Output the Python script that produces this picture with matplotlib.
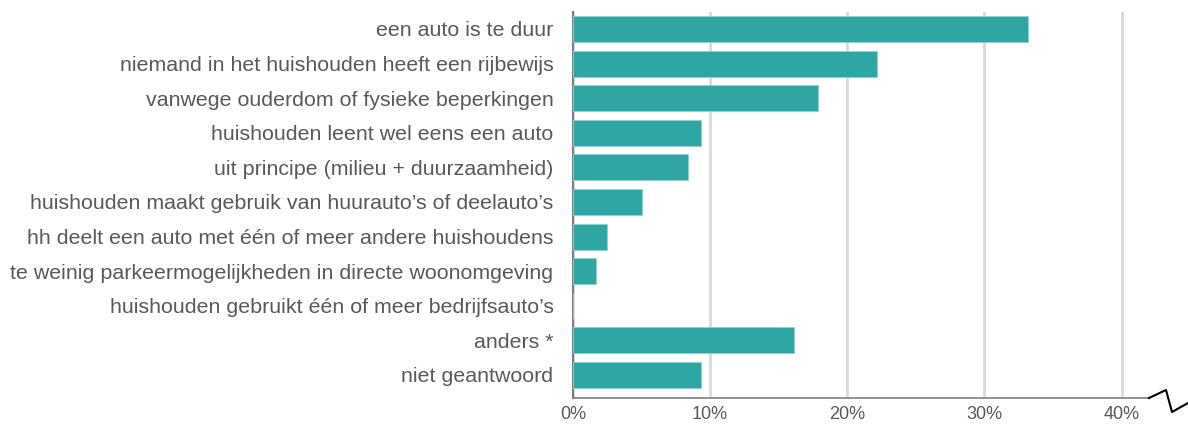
import matplotlib.pyplot as plt
from matplotlib.lines import Line2D
from matplotlib.ticker import FuncFormatter

plt.rcParams["font.family"] = ["Liberation Sans", "DejaVu Sans"]

# Reasons for not owning a car (share of households, %)
categories = [
    "een auto is te duur",
    "niemand in het huishouden heeft een rijbewijs",
    "vanwege ouderdom of fysieke beperkingen",
    "huishouden leent wel eens een auto",
    "uit principe (milieu + duurzaamheid)",
    "huishouden maakt gebruik van huurauto\u2019s of deelauto\u2019s",
    "hh deelt een auto met \u00e9\u00e9n of meer andere huishoudens",
    "te weinig parkeermogelijkheden in directe woonomgeving",
    "huishouden gebruikt \u00e9\u00e9n of meer bedrijfsauto\u2019s",
    "anders *",
    "niet geantwoord",
]
values = [33.2, 22.2, 17.9, 9.3, 8.4, 5.0, 2.5, 1.7, 0.0, 16.1, 9.3]
xticks = [0, 10, 20, 30, 40]

bar_color = "#2EA7A4"
text_color = "#595959"

fig = plt.figure(figsize=(11.88, 4.25), dpi=100)
ax = fig.add_axes([0.4823, 0.0635, 0.4849, 0.9083])

ypos = list(range(len(categories)))
ax.barh(ypos, values, height=0.75, color=bar_color, edgecolor="#8FD3D1",
        linewidth=0.6, zorder=3)

ax.set_xlim(0, 42)
ax.set_ylim(len(categories) - 1 + 0.665, -0.49)
ax.set_yticks(ypos)
ax.set_yticklabels(categories, fontsize=15.4, color=text_color)
ax.set_xticks(xticks)
ax.xaxis.set_major_formatter(FuncFormatter(lambda v, p: f"{v:.0f}%"))
ax.tick_params(axis="x", labelsize=13, labelcolor=text_color, length=0, pad=6)
ax.tick_params(axis="y", length=0, pad=14)

ax.grid(axis="x", color="#D9D9D9", linewidth=2, zorder=0)
ax.set_axisbelow(True)
for side in ["top", "right"]:
    ax.spines[side].set_visible(False)
ax.spines["left"].set_color("#7F7F7F")
ax.spines["left"].set_linewidth(1.5)
ax.spines["bottom"].set_color("#7F7F7F")
ax.spines["bottom"].set_linewidth(1.2)

# axis break marker at the right end of the x axis
W, H = 1188, 425
zx = [1149, 1166, 1172, 1188]
zy = [398, 390, 412, 403]
fig.add_artist(Line2D([x / W for x in zx], [1 - y / H for y in zy],
                      color="black", linewidth=1.5, transform=fig.transFigure))

fig.savefig("out.png", dpi=100)
